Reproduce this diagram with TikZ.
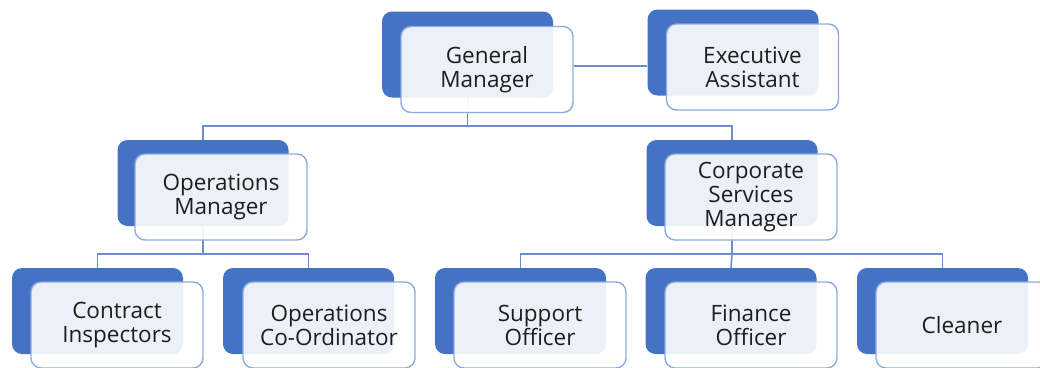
\documentclass[tikz,border=0pt]{standalone}
\usepackage{fontspec}
\setmainfont{Open Sans}
\definecolor{backblue}{HTML}{4472C4}
\definecolor{edgeblue}{HTML}{8FAADC}
\definecolor{lineblue}{HTML}{6C8ED0}
\definecolor{inktext}{HTML}{1E1E1E}
\tikzset{
  backbox/.style={draw=none, fill=backblue, rounded corners=10pt, minimum width=171pt, minimum height=86pt, inner sep=0pt},
  frontbox/.style={draw=edgeblue, line width=1.4pt, fill=white, fill opacity=0.9, text opacity=1, rounded corners=10pt,
                   minimum width=172pt, minimum height=86pt, inner sep=0pt, align=center, text=inktext,
                   font=\fontsize{22.5}{24}\selectfont},
  link/.style={draw=lineblue, line width=1.6pt}
}
\begin{document}
\begin{tikzpicture}[x=1pt, y=-1pt]
      \path[use as bounding box, clip] (0,0) rectangle (1040,367);
      % back boxes
      \node [backbox] (gmback)  at (467.5, 54.5) {};
      \node [backbox] (eaback)  at (733, 52.5) {};
      \node [backbox] (omback)  at (203, 183) {};
      \node [backbox] (csmback) at (732, 183) {};
      \node [backbox] (ciback)  at (97.5, 311) {};
      \node [backbox] (ocback)  at (308.5, 311) {};
      \node [backbox] (soback)  at (520.5, 311) {};
      \node [backbox] (foback)  at (731, 311) {};
      \node [backbox] (clback)  at (942.5, 311) {};
      %
      \coordinate (gmbus)  at (467.5, 126);
      \coordinate (ombus)  at (203, 254);
      \coordinate (csmbus) at (732, 254);
      %
      \draw [link] (gmback.south) -- (gmbus) -| (omback.north);
      \draw [link] (gmbus) -| (csmback.north);
      \draw [link] (omback.south) -- (ombus) -| (ciback.north);
      \draw [link] (ombus) -| (ocback.north);
      \draw [link] (csmback.south) -- (csmbus) -| (soback.north);
      \draw [link] (csmbus) -- (foback.north);
      \draw [link] (csmbus) -| (clback.north);
      % front boxes
      \node [frontbox] (gm)  at (487, 69.5) {General\\Manager};
      \node [frontbox] (ea)  at (752.5, 67) {Executive\\Assistant};
      \node [frontbox] (om)  at (221, 197) {Operations\\Manager};
      \node [frontbox] (csm) at (751, 197) {Corporate\\Services\\Manager};
      \node [frontbox] (ci)  at (117, 325) {Contract\\Inspectors};
      \node [frontbox] (oc)  at (329, 325) {Operations\\Co-Ordinator};
      \node [frontbox] (so)  at (540, 325) {Support\\Officer};
      \node [frontbox] (fo)  at (751, 325) {Finance\\Officer};
      \node [frontbox] (cl)  at (962, 325) {Cleaner};
      %
      \draw [link] ([yshift=3.5pt]gm.east) -- ([yshift=3.5pt]gm.east -| eaback.west);
\end{tikzpicture}
\end{document}
